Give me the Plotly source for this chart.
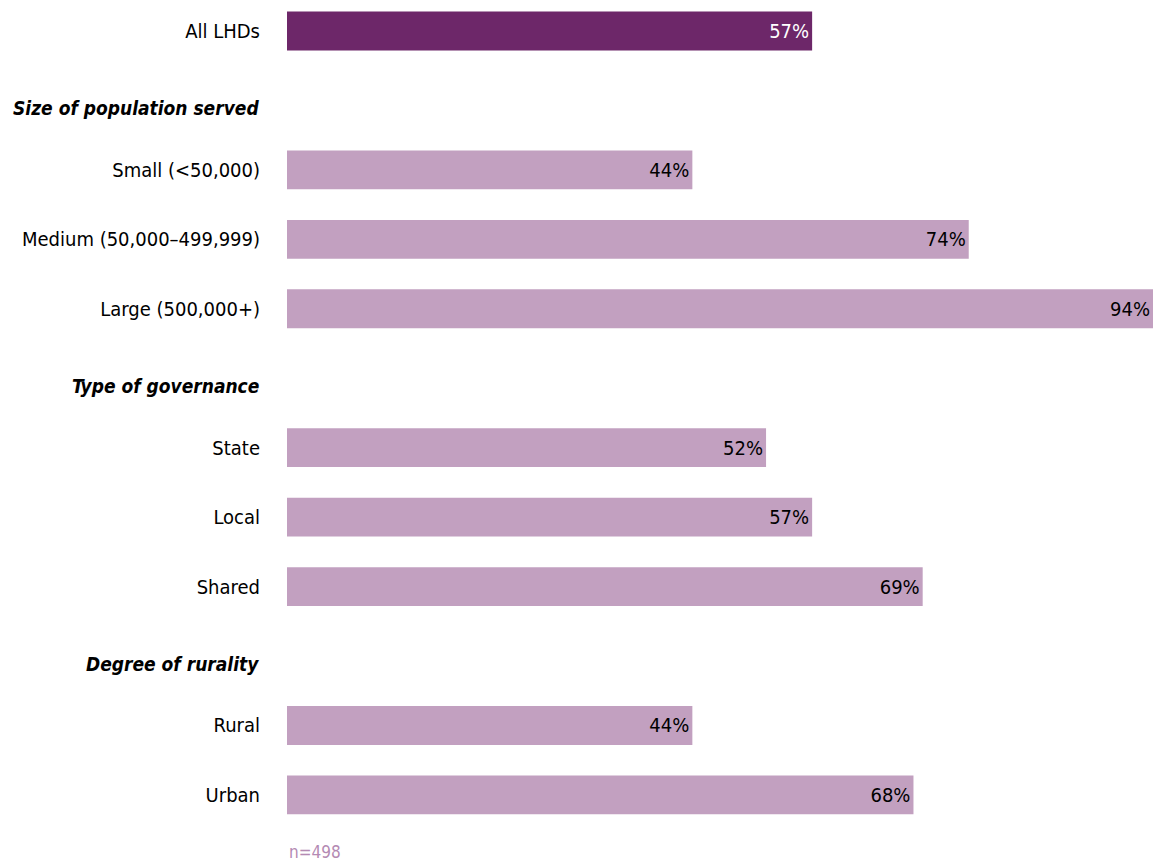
import plotly.graph_objects as go

labels = ["All LHDs", "", "Small (<50,000)",
          "Medium (50,000–499,999)", "Large (500,000+)",
          "", "State", "Local", "Shared",
          "", "Rural", "Urban"]
headers = {1: "Size of population served", 5: "Type of governance", 9: "Degree of rurality"}
values = [57, None, 44, 74, 94, None, 52, 57, 69, None, 44, 68]
is_total = [True, False, False, False, False, False, False, False, False, False, False, False]
note = "n=498"

DARK = "#6d2769"
LIGHT = "#c2a0c0"
FONT = "DejaVu Sans Condensed, Liberation Sans Narrow, Arial Narrow, sans-serif"

ys = list(range(len(labels)))
colors = [DARK if t else LIGHT for t in is_total]
text = [f"{v}%" if v is not None else "" for v in values]
tcolors = ["white" if t else "black" for t in is_total]

fig = go.Figure(go.Bar(
    x=[v if v is not None else 0 for v in values], y=ys, orientation="h",
    marker=dict(color=colors, line=dict(width=0)),
    text=text, textposition="inside", insidetextanchor="end",
    textfont=dict(family=FONT, size=20, color=tcolors),
    width=0.56, cliponaxis=False, hoverinfo="skip",
))

fig.update_layout(
    width=1153, height=865,
    margin=dict(l=287, r=0, t=0, b=35, autoexpand=False),
    plot_bgcolor="white", paper_bgcolor="white",
    showlegend=False,
    font=dict(family=FONT, size=20, color="black"),
    uniformtext=dict(mode=False),
)
fig.update_xaxes(range=[0, 94], visible=False, fixedrange=True, automargin=False)
fig.update_yaxes(
    range=[11.505, -0.446], tickmode="array", tickvals=ys, ticktext=labels,
    showgrid=False, zeroline=False, showline=False, ticks="", automargin=False,
    ticklabelstandoff=26, tickfont=dict(family=FONT, size=20, color="black"),
)
for r, h in headers.items():
    fig.add_annotation(text=f"<b><i>{h}</i></b>", xref="paper", yref="y", x=0, y=r + 0.11,
                       xanchor="right", yanchor="middle", xshift=-26, showarrow=False,
                       font=dict(family=FONT, size=19, color="black"))
fig.add_annotation(text=note, xref="paper", yref="paper", x=0, y=0, xanchor="left",
                   yanchor="top", yshift=-10, showarrow=False,
                   font=dict(family=FONT, size=17, color="#b48ab3"))
fig.write_html("out.html")
